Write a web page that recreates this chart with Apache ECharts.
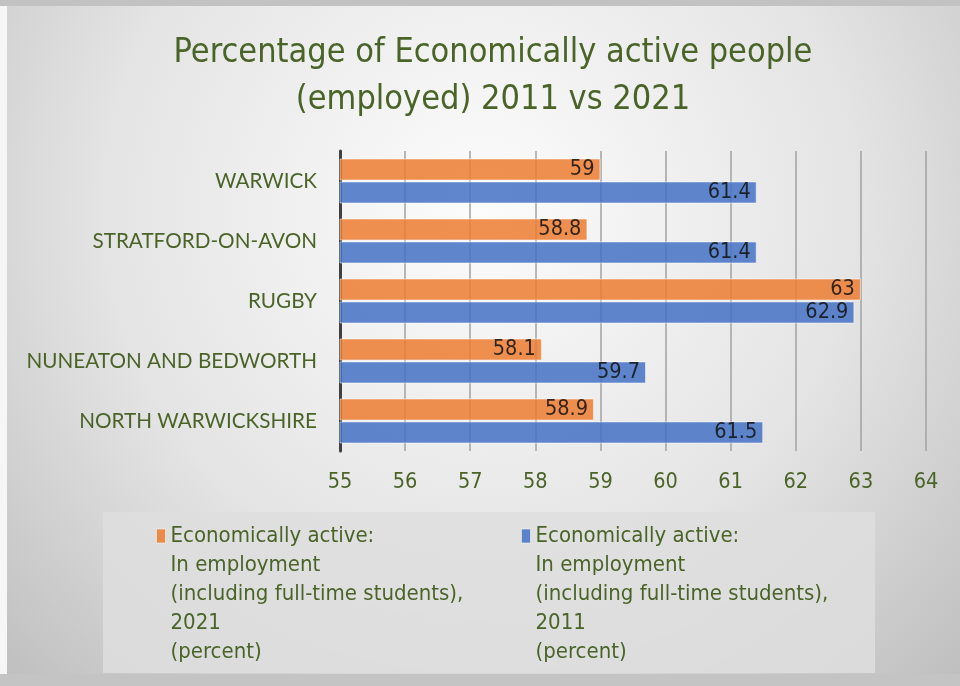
<!DOCTYPE html>
<html>
<head>
<meta charset="utf-8">
<script src="https://cdn.jsdelivr.net/npm/echarts@6/dist/echarts.min.js"></script>
<style>
  html, body { margin: 0; padding: 0; background: #ffffff; }
  #chart { width: 960px; height: 686px; }
</style>
</head>
<body>
<div id="chart"></div>
<script>
// Districts, listed top to bottom
const districts = ['WARWICK', 'STRATFORD-ON-AVON', 'RUGBY', 'NUNEATON AND BEDWORTH', 'NORTH WARWICKSHIRE'];
// Share of economically active people in employment (percent)
const employed2021 = [59, 58.8, 63, 58.1, 58.9];
const employed2011 = [61.4, 61.4, 62.9, 59.7, 61.5];
const name2021 = 'Economically active:\nIn employment\n(including full-time students),\n2021\n(percent)';
const name2011 = 'Economically active:\nIn employment\n(including full-time students),\n2011\n(percent)';
const axisMin = 55, axisMax = 64, axisStep = 1;

const green = '#4a6428';
const narrow = '"Liberation Sans Narrow", "DejaVu Sans Condensed", "Roboto", sans-serif';

const chart = echarts.init(document.getElementById('chart'));

// Legend text is centred on its swatch; four leading blank lines
// lift the swatch up to the first line of the five-line name.
function legendFor(name, left) {
  return {
    data: [name],
    left: left,
    top: 405.5,
    orient: 'horizontal',
    padding: 0,
    itemWidth: 9,
    itemHeight: 14,
    itemGap: 0,
    icon: 'rect',
    selectedMode: false,
    formatter: n => '\n\n\n\n' + n,
    itemStyle: { borderColor: 'rgba(255,255,255,0.6)', borderWidth: 1 },
    textStyle: {
      color: green,
      fontFamily: narrow,
      fontSize: 22,
      lineHeight: 29
    }
  };
}

const labelStyle = {
  show: true,
  position: 'insideRight',
  distance: 6,
  color: '#111111',
  fontFamily: narrow,
  fontSize: 21.5
};

chart.setOption({
  backgroundColor: {
    type: 'radial', x: 0.5, y: 0.3, r: 1.0,
    colorStops: [
      { offset: 0, color: '#fcfcfc' },
      { offset: 0.55, color: '#e4e4e4' },
      { offset: 1, color: '#bdbdbd' }
    ]
  },
  animation: false,
  graphic: [
    { type: 'rect', shape: { x: 0, y: 0, width: 960, height: 6 }, style: { fill: '#c2c2c2' }, z: -1 },
    { type: 'rect', shape: { x: 0, y: 674, width: 960, height: 12 }, style: { fill: '#c4c4c4' }, z: -1 },
    { type: 'rect', shape: { x: 0, y: 6, width: 7, height: 668 }, style: { fill: '#f6f6f6' }, z: -1 },
    { type: 'rect', shape: { x: 103, y: 512, width: 772, height: 161 }, style: { fill: 'rgba(222,222,222,0.85)' }, z: 0 }
  ],
  title: {
    text: 'Percentage of Economically active people\n(employed) 2011 vs 2021',
    left: 488,
    top: 25,
    textAlign: 'center',
    textStyle: {
      color: green,
      fontFamily: narrow,
      fontWeight: 'normal',
      fontSize: 34,
      lineHeight: 47
    }
  },
  legend: [legendFor(name2021, 156), legendFor(name2011, 521)],
  grid: { left: 340, right: 34, top: 151, bottom: 235, containLabel: false },
  xAxis: {
    type: 'value',
    min: axisMin,
    max: axisMax,
    interval: axisStep,
    axisLine: { show: false },
    axisTick: { show: false },
    axisLabel: { color: green, fontFamily: narrow, fontSize: 21.5, margin: 20 },
    splitLine: { show: true, lineStyle: { color: '#a2a2a2', width: 1.5 } }
  },
  yAxis: {
    type: 'category',
    data: districts,
    inverse: true,
    axisLine: { show: true, lineStyle: { color: '#404040', width: 3 } },
    axisTick: { show: false },
    axisLabel: { color: green, fontFamily: 'Lato, "Open Sans", sans-serif', fontSize: 20.7, margin: 23 }
  },
  series: [
    {
      name: name2021,
      type: 'bar',
      data: employed2021,
      barCategoryGap: '25%',
      barGap: '4%',
      itemStyle: { color: '#ed7d31', opacity: 0.85, borderColor: 'rgba(255,255,255,0.6)', borderWidth: 1 },
      label: labelStyle
    },
    {
      name: name2011,
      type: 'bar',
      data: employed2011,
      barCategoryGap: '25%',
      barGap: '4%',
      itemStyle: { color: '#4472c4', opacity: 0.85, borderColor: 'rgba(255,255,255,0.6)', borderWidth: 1 },
      label: labelStyle
    }
  ]
});
</script>
</body>
</html>
